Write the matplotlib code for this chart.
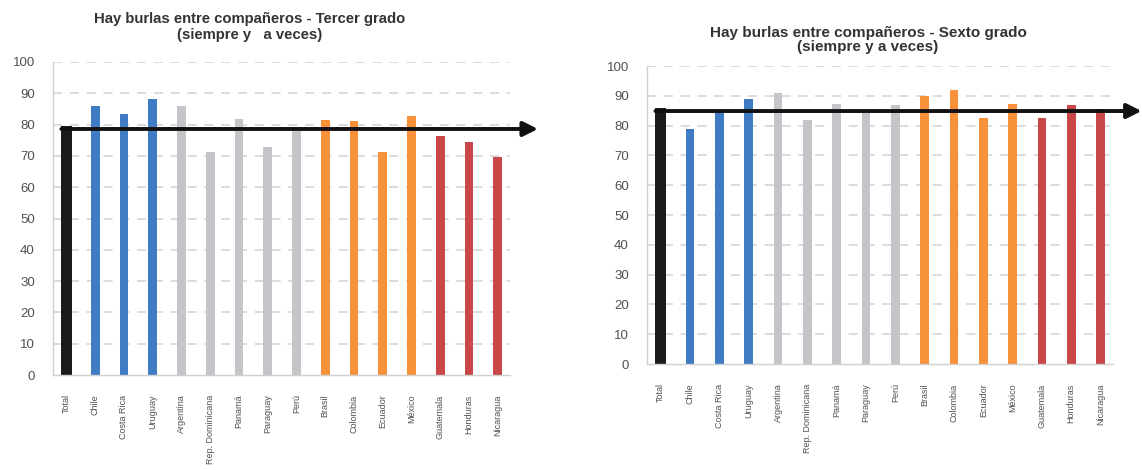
import numpy as np
import matplotlib
matplotlib.use("Agg")
import matplotlib.pyplot as plt

plt.rcParams['font.family'] = ['Liberation Sans', 'DejaVu Sans']

# Data
countries = ['Total', 'Chile', 'Costa Rica', 'Uruguay', 'Argentina', 'Rep. Dominicana',
             'Panamá', 'Paraguay', 'Perú', 'Brasil', 'Colombia', 'Ecuador', 'México',
             'Guatemala', 'Honduras', 'Nicaragua']
tercer = [79.4, 85.9, 83.5, 88.3, 85.9, 71.4, 81.8, 73.0, 78.4, 81.4, 81.3, 71.4, 82.7,
          76.2, 74.3, 69.5]
sexto = [86.0, 78.9, 85.2, 88.8, 91.0, 82.0, 87.3, 84.4, 86.8, 90.0, 91.8, 82.4, 87.4,
         82.4, 86.8, 85.5]
arrow_tercer = 78.6
arrow_sexto = 84.9

titles = ['Hay burlas entre compañeros - Tercer grado\n(siempre y   a veces)',
          'Hay burlas entre compañeros - Sexto grado\n(siempre y a veces)']

# colour groups
colors = ['#1c1a1a'] + ['#3f7cc4'] * 3 + ['#c3c5c8'] * 5 + ['#f7913a'] * 4 + ['#c94749'] * 3
widths = [0.36] + [0.3] * 15


def draw(ax, values, level):
    x = np.arange(len(countries))
    ax.set_ylim(0, 100)
    ax.set_xlim(-0.47, len(countries) - 0.58)
    ax.set_yticks(np.arange(0, 101, 10))
    for v in range(10, 101, 10):
        ax.axhline(v, color='#d2d2d2', lw=1.1, ls=(0, (6, 5)), zorder=0)
    ax.bar(x, values, width=widths, color=colors, zorder=2)
    ax.set_xticks(x)
    ax.set_xticklabels(countries, rotation=90, fontsize=6.5, color='#505050', va='top')
    ax.tick_params(axis='x', length=0, pad=14)
    ax.tick_params(axis='y', length=0, pad=13, labelsize=9.5, labelcolor='#505050')
    for s in ['top', 'right']:
        ax.spines[s].set_visible(False)
    for s in ['left', 'bottom']:
        ax.spines[s].set_color('#d0d0d0')
        ax.spines[s].set_linewidth(1.0)
    ax.annotate('', xy=(16.4, level), xytext=(-widths[0] / 2, level),
                arrowprops=dict(arrowstyle='-|>', lw=2.8, color='#111111',
                                mutation_scale=22, shrinkA=0, shrinkB=0),
                annotation_clip=False, zorder=5)


fig = plt.figure(figsize=(11.42, 4.70), dpi=100)
ax1 = fig.add_axes([0.0464, 0.2021, 0.400, 0.666])
ax2 = fig.add_axes([0.5665, 0.2255, 0.408, 0.634])
draw(ax1, tercer, arrow_tercer)
draw(ax2, sexto, arrow_sexto)

fig.text(250 / 1142, 1 - 27 / 470, titles[0], ha='center', va='center', fontsize=10.7,
         fontweight='bold', color='#333333', linespacing=1.15)
fig.text(868 / 1142, 1 - 40 / 470, titles[1], ha='center', va='center', fontsize=11,
         fontweight='bold', color='#333333', linespacing=1.0)

fig.savefig('out.png', dpi=100)
